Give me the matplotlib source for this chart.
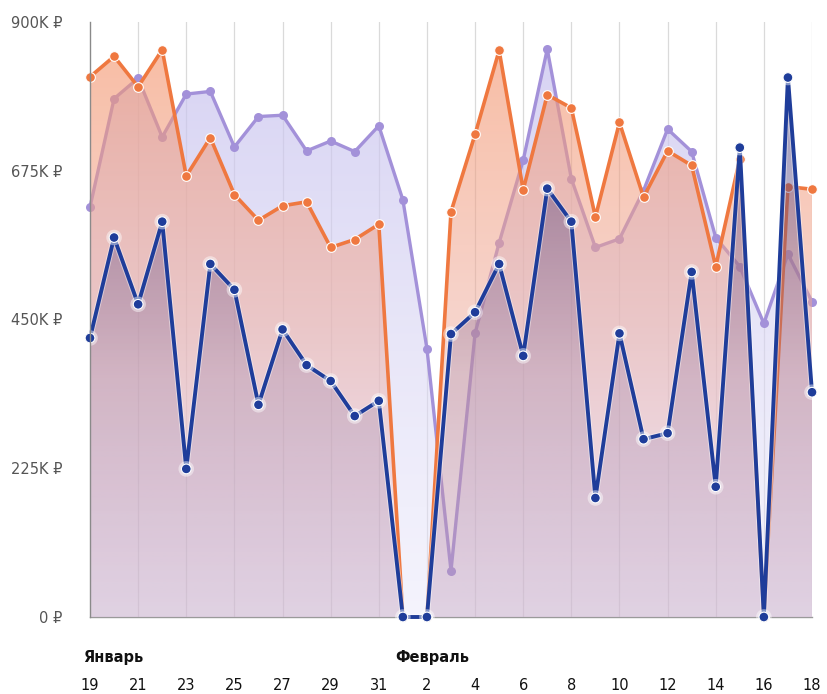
import numpy as np
import matplotlib
matplotlib.use("Agg")
import matplotlib.pyplot as plt
from matplotlib.patches import Polygon
import matplotlib.patheffects as pe

plt.rcParams['font.family'] = ['DejaVu Sans']

# Days: 19 Jan .. 18 Feb
days = list(range(19, 32)) + list(range(1, 19))
month_labels = [("Январь", 0), ("Февраль", 13)]

# Daily revenue, roubles
revenue_purple = [620e3, 784e3, 815e3, 726e3, 791e3, 795e3, 711e3, 757e3, 759e3, 705e3,
                  720e3, 704e3, 743e3, 631e3, 406e3, 70e3, 429e3, 566e3, 691e3, 859e3,
                  663e3, 559e3, 572e3, 645e3, 738e3, 704e3, 574e3, 530e3, 444e3, 549e3,
                  477e3]
revenue_orange = [817e3, 848e3, 802e3, 858e3, 667e3, 725e3, 639e3, 600e3, 622e3, 628e3,
                  559e3, 571e3, 594e3, 0, 0, 613e3, 730e3, 857e3, 646e3, 790e3,
                  770e3, 605e3, 748e3, 635e3, 705e3, 683e3, 530e3, 693e3, 0, 651e3,
                  647e3]
revenue_blue = [422e3, 574e3, 473e3, 598e3, 224e3, 534e3, 495e3, 321e3, 435e3, 381e3,
                357e3, 304e3, 327e3, 0, 0, 428e3, 461e3, 534e3, 395e3, 648e3,
                598e3, 180e3, 429e3, 269e3, 278e3, 522e3, 197e3, 710e3, 0, 816e3,
                340e3]

y_ticks = [0, 225e3, 450e3, 675e3, 900e3]
y_tick_labels = ["0 ₽", "225K ₽", "450K ₽", "675K ₽", "900K ₽"]

x = np.arange(len(days))

fig = plt.figure(figsize=(8.27, 6.94), dpi=100)
ax = fig.add_axes([90 / 827, 77 / 694, 722 / 827, 595 / 694])


def gradient_area(ax, x, y, stops, zorder):
    """Fill the area under y with a vertical gradient (stops: list of (t, rgba), t=0 bottom)."""
    y = np.asarray(y, float)
    ymax = y.max()
    verts = [(x[0], 0)] + list(zip(x, y)) + [(x[-1], 0)]
    poly = Polygon(verts, closed=True, facecolor='none', edgecolor='none')
    ax.add_patch(poly)
    n = 400
    t = np.linspace(0, 1, n)
    ts = np.array([s[0] for s in stops])
    cols = np.array([s[1] for s in stops], float)
    img = np.zeros((n, 1, 4))
    for c in range(4):
        img[:, 0, c] = np.interp(t, ts, cols[:, c])
    im = ax.imshow(img, aspect='auto', extent=[x[0], x[-1], 0, ymax],
                   origin='lower', zorder=zorder, interpolation='bilinear')
    im.set_clip_path(poly)


def rgba(r, g, b, a):
    return (r / 255, g / 255, b / 255, a)


# Purple series
gradient_area(ax, x, revenue_purple,
              [(0, rgba(232, 230, 250, 0.45)), (1, rgba(200, 194, 238, 0.72))], 1)
ax.plot(x, revenue_purple, color='#a391d9', lw=2.4, marker='o', ms=6.5,
        mfc='#a391d9', mec='#a391d9', mew=0, zorder=2, clip_on=False)

# Orange series
gradient_area(ax, x, revenue_orange,
              [(0, rgba(240, 195, 205, 0.25)), (0.5, rgba(238, 170, 155, 0.5)),
               (1, rgba(245, 150, 110, 0.62))], 3)
ax.plot(x, revenue_orange, color='#ef7840', lw=2.6, marker='o', ms=7,
        mfc='#ef7840', mec='white', mew=0.8, zorder=4, clip_on=False)

# Dark blue series
gradient_area(ax, x, revenue_blue,
              [(0, rgba(120, 90, 150, 0.15)), (0.45, rgba(120, 95, 150, 0.22)),
               (1, rgba(60, 50, 115, 0.55))], 5)
ax.plot(x, revenue_blue, color='#1f3d9a', lw=2.8, marker='o', ms=7,
        mfc='#1f3d9a', mec='white', mew=0.8, zorder=6, clip_on=False,
        path_effects=[pe.Stroke(linewidth=4.2, foreground=(1, 1, 1, 0.45)), pe.Normal()])

# Vertical grid lines every second day
for i in range(2, len(days), 2):
    ax.axvline(i, color='#dadada', lw=0.9, zorder=0.5)

ax.set_xlim(0, len(days) - 1)
ax.set_ylim(0, 900e3)

for side in ['top', 'right']:
    ax.spines[side].set_visible(False)
ax.spines['left'].set_color('#8a8a8a')
ax.spines['bottom'].set_color('#9a9a9a')
ax.spines['left'].set_linewidth(1.0)
ax.spines['bottom'].set_linewidth(1.0)
ax.spines['left'].set_zorder(7)
ax.spines['bottom'].set_zorder(0.6)

ax.set_yticks(y_ticks)
ax.set_yticklabels(y_tick_labels, fontsize=10.5, color='#555555')
ax.tick_params(axis='y', length=0, pad=20)

ax.set_xticks(x[::2])
ax.set_xticklabels([str(d) for d in days[::2]], fontsize=10.5, color='#111111')
ax.tick_params(axis='x', length=0, pad=44)

for label, idx in month_labels:
    ax.text(idx - 0.3, -50e3, label, transform=ax.transData, fontsize=10.5,
            fontweight='bold', color='#111111', ha='left', va='top', clip_on=False)

ax.set_facecolor('white')
fig.savefig("out.png", dpi=100, facecolor='white')
